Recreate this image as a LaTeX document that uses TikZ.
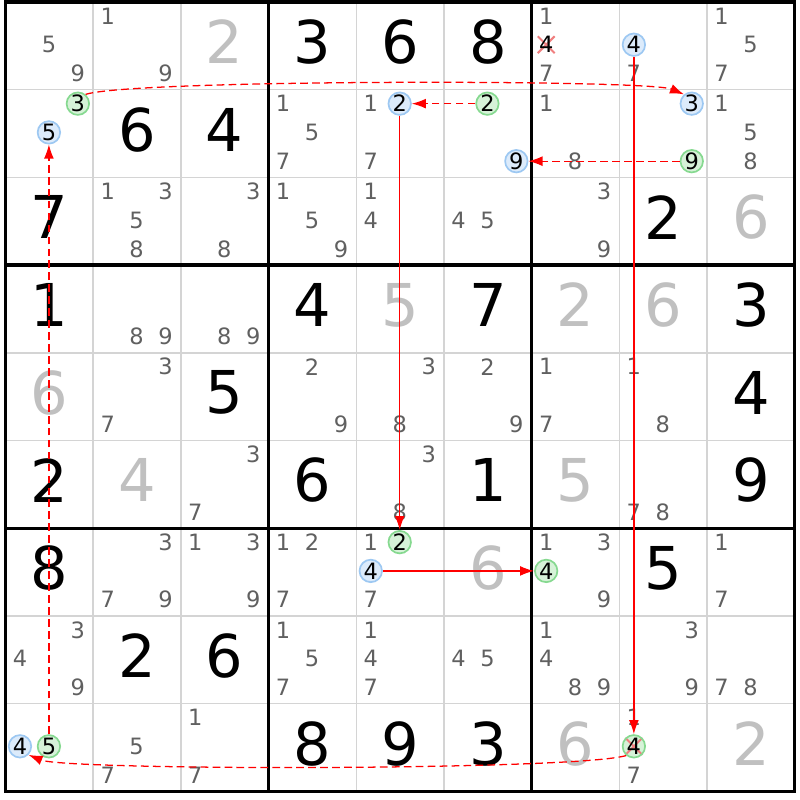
\documentclass[tikz,border=0pt]{standalone}
\usepackage{fontspec}
\setmainfont{DejaVu Sans}
\usetikzlibrary{arrows.meta}

\definecolor{candgray}{HTML}{606060}
\definecolor{solvedgray}{HTML}{C0C0C0}
\definecolor{thingray}{HTML}{D4D4D4}
\definecolor{bluefill}{HTML}{DCEBFB}
\definecolor{blueline}{HTML}{9DC8F2}
\definecolor{greenfill}{HTML}{D6F2D8}
\definecolor{greenline}{HTML}{86D990}
\definecolor{crossred}{HTML}{F07F7F}
\definecolor{linkred}{HTML}{FF0000}

\begin{document}
\begin{tikzpicture}[%
        x = 2.1925cm,
        y = -2.1925cm,
        > = {Latex[length = 10pt, width = 7pt]},
        thingrid/.style = {%
            draw = thingray,
            line width = 1.1pt
        },
        thickgrid/.style = {%
            draw = black,
            line width = 2.4pt
        },
        given/.style = {%
            font = \fontsize{42}{42}\selectfont,
            text = black,
            inner sep = 0pt,
            yshift = 2.8pt
        },
        solved/.style = {%
            given,
            text = solvedgray
        },
        cand/.style = {%
            font = \fontsize{16}{16}\selectfont,
            text = candgray,
            inner sep = 0pt
        },
        bluecand/.style = {%
            cand,
            circle,
            text = black,
            minimum size = 16pt,
            fill = bluefill,
            draw = blueline,
            line width = 1.2pt
        },
        greencand/.style = {%
            bluecand,
            fill = greenfill,
            draw = greenline
        },
        crossmark/.style = {%
            draw = crossred,
            line width = 1.4pt
        },
        strongarrow/.style = {%
            draw = linkred,
            line width = 0.9pt,
            ->
        },
        weakarrow/.style = {%
            strongarrow,
            dash pattern = on 5.5pt off 3pt
        }
    ]

        % White page with the reference margins.
        \fill[white] (-0.0627, -0.0228) rectangle (9.0593, 9.0992);
        \useasboundingbox (-0.0627, -0.0228) rectangle (9.0593, 9.0992);

        % Thin cell lines.
        \foreach \i in {1,...,8} {
            \draw[thingrid] (\i, 0) to (\i, 9);
            \draw[thingrid] (0, \i) to (9, \i);
        }

        % Thick box lines.
        \draw[thickgrid] (0, 0) rectangle (9, 9);
        \foreach \i in {3, 6} {
            \draw[thickgrid] (\i, 0) to (\i, 9);
            \draw[thickgrid] (0, \i) to (9, \i);
        }

        % Given digits.
        \foreach \row/\col/\dig in {1/4/3, 1/5/6, 1/6/8, 2/2/6, 2/3/4, 3/1/7,
                3/8/2, 4/1/1, 4/4/4, 4/6/7, 4/9/3, 5/3/5, 5/9/4, 6/1/2,
                6/4/6, 6/6/1, 6/9/9, 7/1/8, 7/8/5, 8/2/2, 8/3/6, 9/4/8,
                9/5/9, 9/6/3}
            \node[given] (g\row\col) at (\col - 0.5, \row - 0.5) {\dig};

        % Solved digits in gray.
        \foreach \row/\col/\dig in {1/3/2, 3/9/6, 4/5/5, 4/7/2, 4/8/6, 5/1/6,
                6/2/4, 6/7/5, 7/6/6, 9/7/6, 9/9/2}
            \node[solved] (s\row\col) at (\col - 0.5, \row - 0.5) {\dig};

        % Pencil marks.
        \foreach \row/\col/\cands in {1/1/{5,9}, 1/2/{1,9}, 1/7/{1,7}, 1/8/{7},
                1/9/{1,5,7}, 2/4/{1,5,7}, 2/5/{1,7}, 2/7/{1,8}, 2/9/{1,5,8},
                3/2/{1,3,5,8}, 3/3/{3,8}, 3/4/{1,5,9}, 3/5/{1,4}, 3/6/{4,5},
                3/7/{3,9}, 4/2/{8,9}, 4/3/{8,9}, 5/2/{3,7}, 5/4/{2,9},
                5/5/{3,8}, 5/6/{2,9}, 5/7/{1,7}, 5/8/{1,8}, 6/3/{3,7},
                6/5/{3,8}, 6/8/{7,8}, 7/2/{3,7,9}, 7/3/{1,3,9}, 7/4/{1,2,7},
                7/5/{1,7}, 7/7/{1,3,9}, 7/9/{1,7}, 8/1/{3,4,9}, 8/4/{1,5,7},
                8/5/{1,4,7}, 8/6/{4,5}, 8/7/{1,4,8,9}, 8/8/{3,9}, 8/9/{7,8},
                9/2/{5,7}, 9/3/{1,7}, 9/8/{1,7}} {
            \foreach \n in \cands {
                \pgfmathsetmacro\cx{\col - 0.505 + (mod(\n - 1, 3) - 1)*0.33}
                \pgfmathsetmacro\cy{\row - 0.513 + (div(\n - 1, 3) - 1)*0.328}
                \node[cand] (c\row\col\n) at (\cx, \cy) {\n};
            }
        }

        % Cross behind the eliminated four.
        \coordinate (r1c7x) at (6.165, 0.487);
        \draw[crossmark] ([shift = {(-6pt, -6pt)}]r1c7x) to ([shift = {(6pt, 6pt)}]r1c7x);
        \draw[crossmark] ([shift = {(-6pt, 6pt)}]r1c7x) to ([shift = {(6pt, -6pt)}]r1c7x);
        \node[cand, text = black] (r1c7n4) at (r1c7x) {4};

        % Circled candidates of the chain.
        \node[greencand] (r2c1n3) at (0.825, 1.159) {3};
        \node[bluecand] (r2c1n5) at (0.495, 1.487) {5};
        \node[bluecand] (r2c8n3) at (7.825, 1.159) {3};
        \node[bluecand] (r2c5n2) at (4.495, 1.159) {2};
        \node[greencand] (r2c6n2) at (5.495, 1.159) {2};
        \node[bluecand] (r2c6n9) at (5.825, 1.815) {9};
        \node[greencand] (r2c8n9) at (7.825, 1.815) {9};
        \node[bluecand] (r1c8n4) at (7.165, 0.487) {4};
        \node[greencand] (r7c5n2) at (4.495, 6.159) {2};
        \node[bluecand] (r7c5n4) at (4.165, 6.487) {4};
        \node[greencand] (r7c7n4) at (6.165, 6.487) {4};
        \node[bluecand] (r9c1n4) at (0.165, 8.487) {4};
        \node[greencand] (r9c1n5) at (0.495, 8.487) {5};

        % Eliminated four in a green circle: fill, cross, then the digit.
        \coordinate (r9c8x) at (7.165, 8.487);
        \fill[greenfill] (r9c8x) circle (8pt);
        \draw[crossmark] ([shift = {(-6pt, -6pt)}]r9c8x) to ([shift = {(6pt, 6pt)}]r9c8x);
        \draw[crossmark] ([shift = {(-6pt, 6pt)}]r9c8x) to ([shift = {(6pt, -6pt)}]r9c8x);
        \node[greencand, fill = none] (r9c8n4) at (r9c8x) {4};

        % Links of the chain.
        \draw[weakarrow] (r2c1n3.50) .. controls (1.44, 0.881) and (7.33, 0.881) .. (r2c8n3.130);
        \draw[weakarrow] (r2c6n2) to (r2c5n2);
        \draw[strongarrow] (r2c5n2) to (r7c5n2);
        \draw[strongarrow] (r7c5n4) to (r7c7n4);
        \draw[weakarrow] (r2c8n9) to (r2c6n9);
        \draw[strongarrow] (r1c8n4) to (r9c8n4);
        \draw[weakarrow] (r9c8n4.230) .. controls (6.48, 8.765) and (0.70, 8.765) .. (r9c1n4.-45);
        \draw[weakarrow] (r9c1n5) to (r2c1n5);
    \end{tikzpicture}
\end{document}
